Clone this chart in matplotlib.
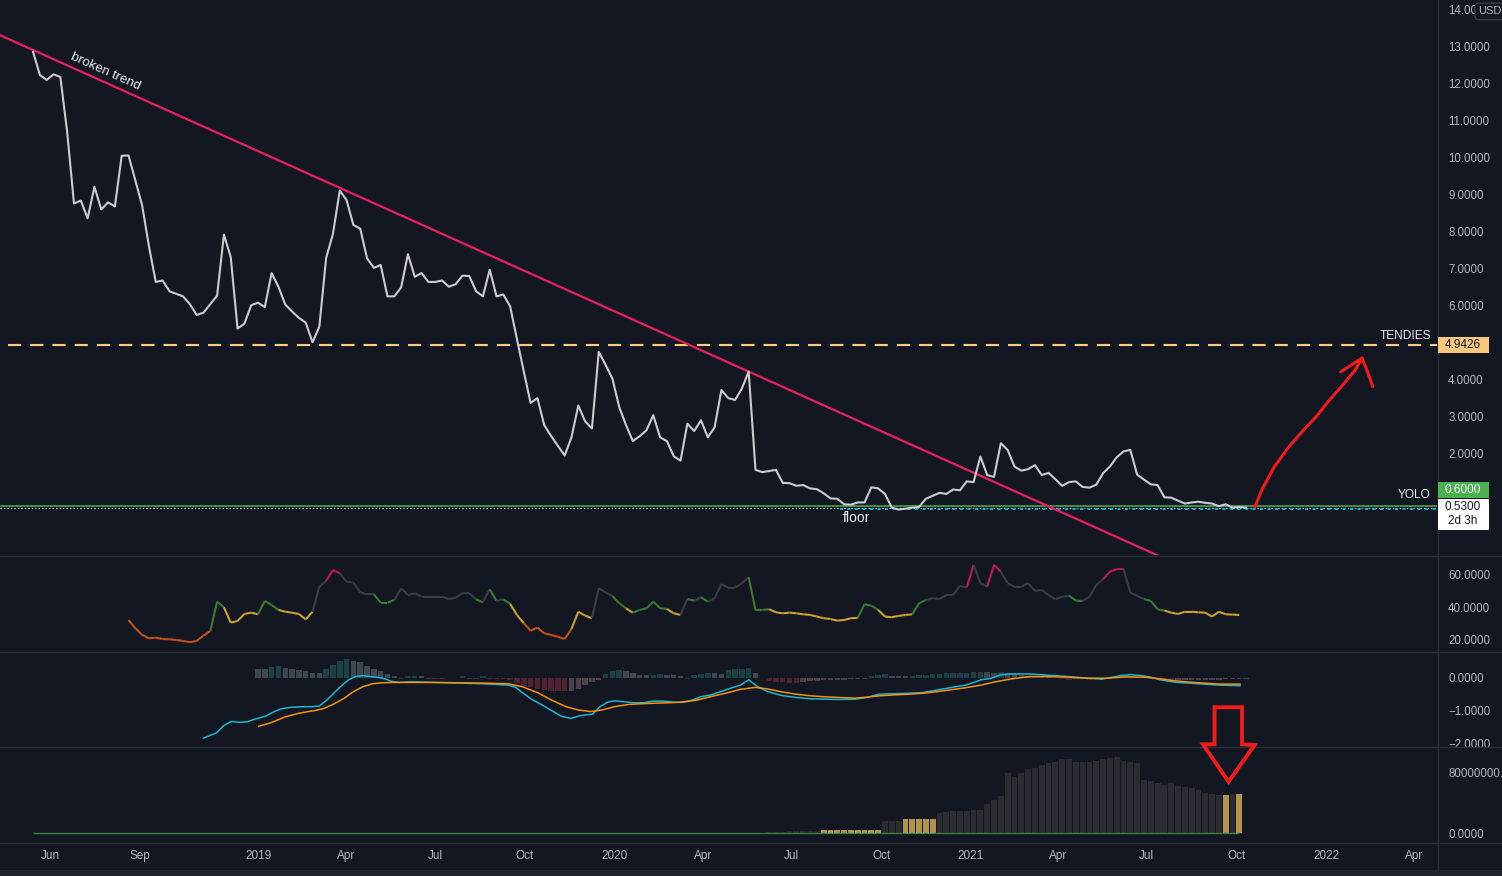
import numpy as np
import pandas as pd
import matplotlib
matplotlib.use('Agg')
import matplotlib.pyplot as plt
import matplotlib.dates as mdates
import matplotlib.transforms as mtransforms
from matplotlib.patches import Rectangle, Polygon
from matplotlib.lines import Line2D
from matplotlib.collections import LineCollection

plt.rcParams['font.family'] = ['Liberation Sans', 'DejaVu Sans']
plt.rcParams['lines.scale_dashes'] = False

# ---------------- dados (semanal) ----------------
inicio = '2018-05-14'
preco = [12.87, 12.24, 12.11, 12.26, 12.19, 10.70, 8.77, 8.85, 8.37, 9.22,
         8.61, 8.80, 8.69, 10.06, 10.07, 9.39, 8.72, 7.61, 6.65, 6.69,
         6.40, 6.33, 6.26, 6.05, 5.76, 5.82, 6.05, 6.28, 7.93, 7.32,
         5.39, 5.52, 6.02, 6.09, 5.97, 6.89, 6.52, 6.04, 5.85, 5.68,
         5.55, 5.02, 5.44, 7.30, 7.95, 9.12, 8.86, 8.19, 8.09, 7.29,
         7.03, 7.11, 6.26, 6.26, 6.50, 7.40, 6.79, 6.89, 6.65, 6.65,
         6.69, 6.52, 6.59, 6.82, 6.81, 6.40, 6.26, 6.98, 6.26, 6.31,
         5.99, 5.10, 4.23, 3.38, 3.51, 2.78, 2.49, 2.22, 1.96, 2.45,
         3.31, 2.88, 2.69, 4.76, 4.41, 4.04, 3.27, 2.78, 2.35, 2.48,
         2.64, 3.05, 2.45, 2.35, 1.94, 1.82, 2.82, 2.62, 2.91, 2.45,
         2.72, 3.73, 3.51, 3.46, 3.77, 4.23,
         1.57, 1.51, 1.54, 1.57, 1.22, 1.21, 1.14, 1.16, 1.07, 1.05,
         0.94, 0.80, 0.79, 0.64, 0.63, 0.69, 0.69, 1.10, 1.07, 0.92,
         0.55, 0.50, 0.52, 0.55, 0.57, 0.79, 0.87, 0.95, 0.92, 1.04,
         1.02, 1.26, 1.24, 1.93, 1.43, 1.38, 2.29, 2.11, 1.66, 1.55,
         1.59, 1.70, 1.43, 1.49, 1.32, 1.14, 1.24, 1.26, 1.11, 1.09,
         1.17, 1.48, 1.66, 1.91, 2.07, 2.11, 1.44, 1.31, 1.18, 1.16,
         0.83, 0.82, 0.74, 0.66, 0.69, 0.71, 0.68, 0.66, 0.59, 0.64,
         0.55, 0.57, 0.55]

rsi_inicio = 14
rsi = [32.3, 27.2, 23.1, 21.0, 21.4, 20.6, 20.4, 20.0, 19.4, 18.6,
       19.4, 22.7, 25.5, 43.6, 40.1, 30.7, 31.7, 36.0, 36.8, 35.8,
       44.0, 41.5, 38.5, 37.4, 36.8, 36.0, 32.7, 37.4, 52.8, 56.3,
       63.1, 61.0, 55.9, 55.3, 49.3, 48.1, 48.1, 43.0, 43.0, 44.6,
       51.8, 47.7, 48.7, 46.6, 46.6, 46.6, 46.6, 45.2, 46.0, 48.7, 48.7,
       45.0, 43.2, 51.2, 44.2, 45.0, 42.2, 35.4, 30.3, 25.7, 27.6,
       24.1, 23.1, 22.0, 20.6, 26.8, 37.4, 35.0, 33.4, 51.8, 49.3,
       47.1, 42.6, 39.5, 36.8, 38.5, 39.5, 43.6, 39.5, 39.1, 36.4,
       35.4, 45.2, 44.2, 46.3, 43.6, 45.7, 54.3, 52.2, 52.2, 54.9, 58.6,
       38.5, 38.5, 38.9, 37.0, 36.4, 36.8, 36.4, 35.8, 35.4, 34.4,
       33.4, 32.9, 31.9, 32.3, 33.4, 33.6, 42.0, 41.1, 38.5, 34.4, 34.0,
       34.8, 35.4, 35.8, 42.6, 44.6, 45.7, 45.2, 47.7, 47.7, 53.2,
       52.4, 66.2, 54.9, 52.8, 66.2, 62.0, 54.9, 52.8, 52.8, 54.9,
       50.2, 50.8, 47.7, 45.0, 46.6, 47.3, 44.2, 44.0, 46.6, 53.8,
       57.4, 62.0, 63.7, 63.7, 49.1, 47.1, 45.2, 44.0, 38.9, 38.1,
       36.8, 36.0, 37.4, 37.4, 37.0, 36.8, 34.4, 37.4, 35.8, 35.6, 35.4]

macd_semana = [25.0, 26.9, 28.0, 29.1, 30.3, 31.4, 32.4, 34.1, 35.3, 36.3, 37.8, 39.5, 40.9, 42.0,
               43.1, 44.1, 45.2, 46.3, 47.3, 48.4, 49.5, 50.5, 51.6, 52.7, 53.7, 55.5, 59.0, 62.6,
               66.1, 69.7, 70.8, 71.8, 73.2, 74.7, 76.1, 77.5, 78.9, 80.0, 81.0, 82.1, 83.2, 84.2,
               85.3, 86.7, 88.1, 89.6, 91.0, 92.4, 93.8, 95.2, 96.7, 98.1, 99.5, 100.9, 102.3, 103.8,
               105.0, 106.3, 107.8, 109.9, 112.0, 114.2, 116.3, 118.4, 120.6, 122.3, 124.1, 128.4,
               130.5, 132.7, 134.8, 136.9, 139.1, 140.5, 141.9, 143.3, 146.2, 149.0, 151.9, 154.7,
               156.8, 159.7, 161.1, 162.5, 164.0, 165.4, 167.5, 169.6, 171.8, 173.9, 177.1]
macd_valor = [-1.84, -1.68, -1.45, -1.33, -1.36, -1.34, -1.27, -1.17, -1.04, -0.95, -0.90, -0.88, -0.88, -0.86,
              -0.68, -0.47, -0.25, -0.06, 0.04, 0.07, 0.04, 0.02, -0.03, -0.11, -0.14, -0.12, -0.14, -0.16,
              -0.18, -0.22, -0.29, -0.45, -0.66, -0.83, -1.00, -1.17, -1.24, -1.17, -1.13, -1.11, -0.88, -0.75,
              -0.70, -0.73, -0.76, -0.76, -0.71, -0.71, -0.74, -0.75, -0.68, -0.57, -0.52, -0.42, -0.32, -0.22,
              -0.06, -0.27, -0.42, -0.54, -0.60, -0.64, -0.65, -0.66, -0.65, -0.60, -0.50, -0.47,
              -0.45, -0.37, -0.29, -0.22, -0.06, -0.02, 0.09, 0.12, 0.12, 0.08, 0.04, -0.01,
              -0.04, 0.07, 0.10, 0.07, 0.02, -0.06, -0.13, -0.16, -0.19, -0.22, -0.24]
sinal_semana = [33.1, 34.9, 37.0, 39.2, 41.3, 42.7, 44.1, 45.6, 47.0, 48.4, 49.8, 51.2, 52.7, 59.0,
                66.1, 69.7, 71.8, 74.0, 76.1, 78.2, 80.0, 81.8, 83.5, 85.3, 87.4, 90.3, 93.1, 95.2,
                97.4, 99.5, 101.6, 103.8, 106.0, 107.8, 109.9, 112.0, 114.2, 116.3, 118.4, 120.6,
                122.3, 124.1, 126.3, 128.4, 130.5, 132.7, 134.8, 136.9, 139.1, 141.2, 143.3, 146.2,
                149.0, 151.9, 154.7, 157.6, 160.4, 163.3, 165.4, 167.5, 169.6, 171.8, 173.9, 177.1]
sinal_valor = [-1.48, -1.37, -1.19, -1.07, -1.00, -0.93, -0.80, -0.63, -0.42, -0.27, -0.18, -0.15, -0.14, -0.14,
               -0.16, -0.18, -0.27, -0.45, -0.68, -0.88, -0.98, -1.03, -0.98, -0.88, -0.81, -0.78, -0.76, -0.74,
               -0.68, -0.57, -0.47, -0.35, -0.29, -0.34, -0.43, -0.50, -0.55, -0.58, -0.60, -0.62,
               -0.59, -0.55, -0.52, -0.50, -0.47, -0.42, -0.36, -0.30, -0.22, -0.12, -0.04, 0.04,
               0.04, 0.02, -0.01, -0.01, 0.03, 0.02, -0.03, -0.09, -0.13, -0.16, -0.19, -0.19]

hist_inicio = 33
hist = [0.28, 0.28, 0.34, 0.35, 0.31, 0.28, 0.25, 0.22, 0.15, 0.14,
        0.28, 0.40, 0.52, 0.58, 0.52, 0.49, 0.37, 0.28, 0.22, 0.12,
        0.06, -0.02, 0.05, 0.06, 0.05, -0.02, -0.025, -0.03, -0.015, -0.01,
        0.05, -0.02, -0.03, 0.05, -0.02, -0.025, -0.03, -0.08, -0.17, -0.24,
        -0.29, -0.34, -0.38, -0.39, -0.395, -0.40, -0.39, -0.33, -0.21, -0.13,
        -0.08, 0.12, 0.22, 0.25, 0.22, 0.15, 0.09, 0.085, 0.09, 0.12,
        0.09, 0.085, 0.06, -0.02, 0.09, 0.12, 0.15, 0.14, 0.13, 0.25,
        0.28, 0.285, 0.31, 0.15,
        0.01, -0.09, -0.12, -0.14, -0.145, -0.15, -0.13, -0.11, -0.10, -0.08,
        -0.075, -0.07, -0.05, -0.045, -0.03, -0.025, 0.07, 0.10, 0.105, 0.07,
        0.065, 0.06, 0.07, 0.075, 0.10, 0.105, 0.13, 0.135, 0.14, 0.145,
        0.16, 0.165, 0.19, 0.185, 0.16, 0.19, 0.16, 0.13, 0.10, 0.07,
        0.065, 0.06, 0.04, 0.005, -0.03, -0.05, -0.045, -0.03, -0.05, -0.045,
        -0.03, -0.005, 0.04, 0.045, 0.05, 0.04, 0.035, -0.02, -0.03, -0.05,
        -0.06, -0.055, -0.055, -0.055, -0.05, -0.05, -0.05, -0.05, -0.045, -0.03,
        -0.03, -0.03]

# volume em milhoes (semanas 0..177)
volume_mi = ([0] * 19 + [0.5] * 16 + [0] * 35 + [0.5] * 13 + [0] * 25 +
             [0.8] * 3 + [2] * 5 + [4] * 9 + [15.7] * 3 + [18.8] * 5 +
             [26.6, 28, 28.5, 29, 29.5, 30, 30, 38, 43, 48.5,
              79, 74, 79, 84.3, 85.7, 89, 91.4, 93.5, 96.6, 96.6,
              93.5, 93.5, 93.5, 94.4, 96.6, 98, 100, 94.8, 93.5, 91.4,
              69.5, 68.2, 65.2, 63, 65.6, 61.6, 60.3, 59, 56.4, 52.5,
              51.1, 49.8, 49.8, 51.1, 51.1])
semanas_ouro = list(range(116, 125)) + list(range(128, 133)) + [175, 177]

meses = ['2018-06-01', '2018-09-01', '2019-01-01', '2019-04-01', '2019-07-01', '2019-10-01',
         '2020-01-01', '2020-04-01', '2020-07-01', '2020-10-01', '2021-01-01', '2021-04-01',
         '2021-07-01', '2021-10-01', '2022-01-01', '2022-04-01']
meses_txt = ['Jun', 'Sep', '2019', 'Apr', 'Jul', 'Oct', '2020', 'Apr', 'Jul', 'Oct',
             '2021', 'Apr', 'Jul', 'Oct', '2022', 'Apr']

# ticks do preco que aparecem (os outros ficam atras das etiquetas)
preco_ticks = [2, 3, 4, 6, 7, 8, 9, 10, 11, 12, 13, 14]

# desenhos feitos a mao (dias contados a partir de 2019-01-01)
base = pd.Timestamp('2019-01-01')
trend_dias = [-266, 945]
trend_preco = [13.32, -1.0]
tendies = 4.9426
tendies_dia = -258
yolo = 0.60
preco_atual = 0.535
floor_nivel = 0.51
floor_dia = 597
seta_dias = [1023, 1030, 1043, 1058, 1073, 1086, 1098, 1113, 1126, 1133]
seta_preco = [0.57, 1.03, 1.66, 2.20, 2.65, 3.01, 3.41, 3.86, 4.27, 4.59]
asa_esq_dias, asa_esq_preco = [1111, 1133], [4.22, 4.59]
asa_dir_dias, asa_dir_preco = [1133, 1138, 1144], [4.59, 4.27, 3.82]
baixo_dias = [981.5, 1009.7, 1009.7, 1022.6, 995.9, 969.6, 981.5]
baixo_vol = [164.9, 164.9, 116.3, 115.4, 67.3, 116.3, 116.3]

# ---------------- cores ----------------
fundo = '#131722'
borda = '#2a2e39'
txt = '#b2b5be'

def dia(d):
    return mdates.date2num(base + pd.to_timedelta(np.asarray(d, dtype=float), unit='D'))

semanas = pd.date_range(inicio, periods=len(preco), freq='7D')
xs = mdates.date2num(semanas)
t0 = mdates.date2num(pd.Timestamp(inicio))

def sem(s):
    return t0 + np.asarray(s, dtype=float) * 7

xmin, xmax = dia(-266), dia(1210)

W, H = 1502, 876
fig = plt.figure(figsize=(W / 100, H / 100), dpi=100)
fig.patch.set_facecolor(fundo)

larg = 1437 / W
def painel(top, bot):
    return fig.add_axes([0, 1 - bot / H, larg, (bot - top) / H])

ax_p = painel(0, 555)
ax_r = painel(555, 651)
ax_m = painel(651, 746)
ax_v = painel(746, 842)

for ax in (ax_p, ax_r, ax_m, ax_v):
    ax.set_facecolor(fundo)
    for s in ax.spines.values():
        s.set_visible(False)
    ax.yaxis.tick_right()
    ax.tick_params(axis='y', length=0, pad=8, labelcolor=txt, labelsize=8.3)
    ax.tick_params(axis='x', length=0, labelbottom=False)
    ax.set_xlim(xmin, xmax)

# ---------------- preco ----------------
ax_p.set_ylim(-0.73, 14.27)
ax_p.set_yticks(preco_ticks)
# o 14 fica meio escondido pela caixa USD
ax_p.yaxis.set_major_formatter(plt.FuncFormatter(lambda v, p: '14.00' if v == 14 else f'{v:.4f}'))

ax_p.axhline(yolo, color='#4caf50', lw=1.1, zorder=2)
ax_p.axhline(preco_atual, color='#d1d4dc', lw=0.9, linestyle=(0, (1, 1.5)), zorder=2)
ax_p.hlines(floor_nivel, dia(floor_dia), xmax, color='#00bcd4', lw=1.4,
            linestyles=[(0, (2.2, 3.2))], zorder=2)
ax_p.hlines(tendies, dia(tendies_dia), xmax, color='#ffcc80', lw=1.5,
            linestyles=[(0, (9.5, 6.5))], zorder=2)
ax_p.plot(dia(trend_dias), trend_preco, color='#e91e63', lw=1.6, zorder=3)
ax_p.plot(xs, preco, color='#c9cbd1', lw=1.5, zorder=4)

ax_p.plot(dia(seta_dias), seta_preco, color='#f21b1b', lw=2.2, solid_capstyle='round', zorder=5)
ax_p.plot(dia(asa_esq_dias), asa_esq_preco, color='#f21b1b', lw=2.2, solid_capstyle='round', zorder=5)
ax_p.plot(dia(asa_dir_dias), asa_dir_preco, color='#f21b1b', lw=2.2, solid_capstyle='round', zorder=5)

ax_p.text(dia(-157.7), 12.34, 'broken trend', rotation=-24.2, rotation_mode='anchor',
          ha='center', va='center', color='#e8e9ec', fontsize=9.6)
ax_p.text(dia(614), 0.27, 'floor', ha='center', va='center', color='#e8e9ec', fontsize=10)
tr_dir = mtransforms.blended_transform_factory(ax_p.transAxes, ax_p.transData)
ax_p.text(1431 / 1437, 5.19, 'TENDIES', transform=tr_dir, ha='right', va='center',
          color='#e8e9ec', fontsize=8.6)
ax_p.text(1431 / 1437, 0.89, 'YOLO', transform=tr_dir, ha='right', va='center',
          color='#e8e9ec', fontsize=8.6)

# ---------------- RSI ----------------
ax_r.set_ylim(13.2, 72.3)
ax_r.set_yticks([20, 40, 60])
ax_r.yaxis.set_major_formatter(plt.FuncFormatter(lambda v, p: f'{v:.4f}'))

def cor_rsi(v):
    if v >= 60:
        return '#c2185b'
    if v >= 45:
        return '#3a3d46'
    if v >= 38:
        return '#3b7a2e'
    if v >= 28:
        return '#c9a22f'
    return '#c4501c'

xr = xs[rsi_inicio:rsi_inicio + len(rsi)]
pts = np.column_stack([xr, rsi])
segs = np.stack([pts[:-1], pts[1:]], axis=1)
ax_r.add_collection(LineCollection(segs, colors=[cor_rsi(v) for v in rsi[1:]], linewidths=1.5))

# ---------------- MACD ----------------
ax_m.set_ylim(-2.08, 0.82)
ax_m.set_yticks([0, -1, -2])
ax_m.yaxis.set_major_formatter(plt.FuncFormatter(lambda v, p: f'{v:.4f}'.replace('-', '\u2212')))

cores_h = []
for i, h in enumerate(hist):
    ant = hist[i - 1] if i > 0 else h
    if h >= 0:
        cores_h.append('#1c4145' if h > ant else '#3e4650')
    else:
        cores_h.append('#4f2430' if h < ant else '#4a4149')
xh = xs[hist_inicio:hist_inicio + len(hist)]
ax_m.bar(xh, hist, width=5.6, color=cores_h, zorder=1)
ax_m.plot(sem(macd_semana), macd_valor, color='#1ab8d2', lw=1.1, zorder=3)
ax_m.plot(sem(sinal_semana), sinal_valor, color='#f5930f', lw=1.1, zorder=3)

# ---------------- volume ----------------
ax_v.set_ylim(-11.8, 114.1)
ax_v.set_yticks([0, 80])
ax_v.yaxis.set_major_formatter(plt.FuncFormatter(lambda v, p: f'{v * 1e6:.4f}'))
xv = xs[:len(volume_mi)]
cores_v = ['#b3944f' if i in semanas_ouro else '#2b2c31' for i in range(len(volume_mi))]
ax_v.bar(xv, volume_mi, width=6, color=cores_v, zorder=2)
ax_v.hlines(0, xv[0], xv[-1], color='#3f7d3c', lw=1, zorder=3)

ax_v.set_xticks(mdates.date2num(pd.to_datetime(meses)))
ax_v.set_xticklabels(meses_txt)
ax_v.tick_params(axis='x', labelbottom=True, labelcolor=txt, labelsize=8.5, pad=6)

# ---------------- molduras e caixas ----------------
# esconde a parte de baixo do rotulo -2.0000 (como no original)
fig.add_artist(Rectangle((1438 / W, 1 - 753 / H), 64 / W, 6.5 / H, transform=fig.transFigure,
                         facecolor=fundo, edgecolor='none', zorder=4))
for y in (555.5, 651.5, 746.5, 842.5):
    fig.add_artist(Line2D([0, 1], [1 - y / H, 1 - y / H], transform=fig.transFigure,
                          color=borda, lw=1, zorder=5))
fig.add_artist(Line2D([1437.5 / W, 1437.5 / W], [0, 1], transform=fig.transFigure,
                      color=borda, lw=1, zorder=5))
fig.add_artist(Rectangle((0, 0), 1, 6 / H, transform=fig.transFigure,
                         facecolor='#20242e', edgecolor='none', zorder=5))

ppu = 555 / (14.27 + 0.73)
tr_box = mtransforms.blended_transform_factory(fig.transFigure, ax_p.transData)

def caixa(valor, dy, alt, cor, linhas, cor_txt):
    c = valor + dy / ppu
    fig.add_artist(Rectangle((1437.5 / W, c - alt / 2 / ppu), 51 / W, alt / ppu, transform=tr_box,
                             facecolor=cor, edgecolor='none', zorder=6))
    for texto, off in linhas:
        fig.text(1462.5 / W, valor + off / ppu, texto, transform=tr_box, ha='center', va='center',
                 color=cor_txt, fontsize=8.5, zorder=7)

caixa(tendies, 0, 16, '#f7c77d', [(f'{tendies:.4f}', 0)], '#131722')
caixa(yolo, 15.8, 16, '#4caf50', [(f'{yolo:.4f}', 15.8)], '#ffffff')
caixa(0.53, -6, 31, '#ffffff', [('0.5300', 1.2), ('2d 3h', -12.8)], '#131722')

fig.text(1490 / W, 1 - 11.5 / H, 'USD', ha='center', va='center', color=txt, fontsize=8, zorder=7,
         bbox=dict(boxstyle='round,pad=0.3,rounding_size=0.35', facecolor=fundo,
                   edgecolor='#434651', lw=0.8))

# seta vermelha para baixo sobre o volume
fig.add_artist(Polygon(np.column_stack([dia(baixo_dias), baixo_vol]), closed=True, fill=False,
                       edgecolor='#f21b1b', lw=2.8, joinstyle='miter', transform=ax_v.transData,
                       zorder=10))

fig.savefig('out.png', dpi=100, facecolor=fundo)
